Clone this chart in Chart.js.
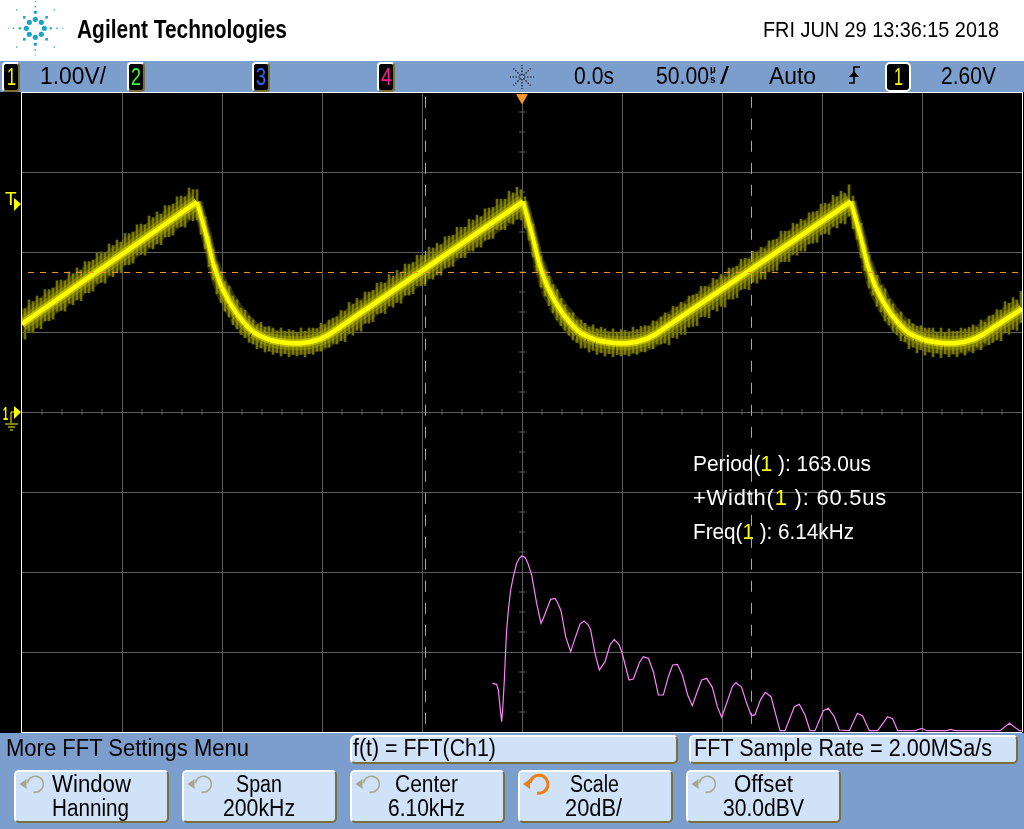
<!DOCTYPE html>
<html><head><meta charset="utf-8">
<style>
html,body{margin:0;padding:0;width:1024px;height:829px;overflow:hidden;background:#fff}
#stage{position:relative;width:1024px;height:829px;overflow:hidden;font-family:"Liberation Sans",sans-serif;color:#000}
.bl{position:absolute;background:#7c9ecc}
#plot{position:absolute;left:0;top:92px;width:1024px;height:641px;background:#000}
#cv{position:absolute;left:0;top:0;width:1024px;height:829px}
.t{position:absolute;white-space:nowrap;line-height:1;transform-origin:0 50%}
.y{color:#ff0}
.box{position:absolute;background:#000;border-radius:4px;border:2px solid;border-color:#fff #7a6f3a #7a6f3a #fff;box-sizing:border-box}
.btn{position:absolute;box-sizing:border-box;background:#cfe2f8;border:2px solid;border-color:#fff #7a6f3a #7a6f3a #fff;border-radius:5px}
svg{position:absolute;left:0;top:0;overflow:visible}
</style></head>
<body>
<div id="stage">
<div class="bl" style="left:0;top:61px;width:1024px;height:31px"></div>
<div id="plot"></div>
<div class="bl" style="left:0;top:733px;width:1024px;height:96px"></div>
<div style="position:absolute;left:21px;top:92px;width:1px;height:641px;background:#fff"></div>
<canvas id="cv" width="1024" height="829"></canvas>

<div class="t" data-w="210" style="left:77px;top:16px;font-size:26px;font-weight:bold">Agilent Technologies</div>
<div class="t" data-w="236" style="left:763px;top:19px;font-size:22px">FRI JUN 29 13:36:15 2018</div>

<div class="box" style="left:2px;top:62px;width:18px;height:30px"></div>
<div class="t" data-w="9" style="left:7px;top:65px;font-size:24px;color:#ff0">1</div>
<div class="t" data-w="66" style="left:40px;top:65px;font-size:23px">1.00V/</div>
<div class="box" style="left:127px;top:62px;width:18px;height:30px"></div>
<div class="t" data-w="10" style="left:131px;top:65px;font-size:24px;color:#3f3">2</div>
<div class="box" style="left:252px;top:62px;width:18px;height:30px"></div>
<div class="t" data-w="10" style="left:256px;top:65px;font-size:24px;color:#2a6aff">3</div>
<div class="box" style="left:377px;top:62px;width:18px;height:30px"></div>
<div class="t" data-w="11" style="left:381px;top:65px;font-size:24px;color:#ff1a8c">4</div>
<div class="t" data-w="40" style="left:574px;top:65px;font-size:23px">0.0s</div>
<div class="t" data-w="53" style="left:656px;top:65px;font-size:23px">50.00</div>
<div class="t" style="left:710px;top:65px;font-size:10px;font-weight:bold">µ</div>
<div class="t" style="left:710px;top:75px;font-size:10px;font-weight:bold">s</div>
<div class="t" data-w="9" style="left:720px;top:65px;font-size:23px">/</div>
<div class="t" data-w="47" style="left:769px;top:65px;font-size:23px">Auto</div>
<div class="box" style="left:885px;top:62px;width:26px;height:30px;border-color:#fff;border-radius:5px"></div>
<div class="t" data-w="9" style="left:894px;top:65px;font-size:24px;color:#ff0">1</div>
<div class="t" data-w="55" style="left:941px;top:65px;font-size:23px">2.60V</div>

<div class="t" data-w="178" style="left:693px;top:453px;font-size:22px;color:#fff">Period(<span class="y">1</span> ): 163.0us</div>
<div class="t" data-w="194" style="left:693px;top:487px;font-size:22px;color:#fff;letter-spacing:.8px">+Width(<span class="y">1</span> ): 60.5us</div>
<div class="t" data-w="161" style="left:693px;top:521px;font-size:22px;color:#fff">Freq(<span class="y">1</span> ): 6.14kHz</div>

<div class="t" data-w="243" style="left:6px;top:737px;font-size:23px">More FFT Settings Menu</div>
<div class="btn" style="left:350px;top:735px;width:328px;height:29px;border-top-left-radius:6px"></div>
<div class="t" data-w="143" style="left:353px;top:737px;font-size:23px">f(t) = FFT(Ch1)</div>
<div class="btn" style="left:689px;top:735px;width:329px;height:29px"></div>
<div class="t" data-w="298" style="left:694px;top:737px;font-size:23px">FFT Sample Rate = 2.00MSa/s</div>

<div class="btn" style="left:14px;top:770px;width:155px;height:53px"></div>
<div class="btn" style="left:182px;top:770px;width:155px;height:53px"></div>
<div class="btn" style="left:350px;top:770px;width:155px;height:53px"></div>
<div class="btn" style="left:518px;top:770px;width:155px;height:53px"></div>
<div class="btn" style="left:686px;top:770px;width:155px;height:53px"></div>
<div class="t" data-w="79" style="left:52px;top:773px;font-size:23px">Window</div>
<div class="t" data-w="77" style="left:52px;top:797px;font-size:23px">Hanning</div>
<div class="t" data-w="46" style="left:236px;top:773px;font-size:23px">Span</div>
<div class="t" data-w="72" style="left:223px;top:797px;font-size:23px">200kHz</div>
<div class="t" data-w="63" style="left:395px;top:773px;font-size:23px">Center</div>
<div class="t" data-w="77" style="left:388px;top:797px;font-size:23px">6.10kHz</div>
<div class="t" data-w="49" style="left:570px;top:773px;font-size:23px">Scale</div>
<div class="t" data-w="57" style="left:565px;top:797px;font-size:23px">20dB/</div>
<div class="t" data-w="59" style="left:734px;top:773px;font-size:23px">Offset</div>
<div class="t" data-w="81" style="left:723px;top:797px;font-size:23px">30.0dBV</div>
<div class="t" style="left:5px;top:189px;font-size:19px;color:#ff0">T</div>
<div class="t" data-w="5" style="left:3px;top:405px;font-size:18px;color:#ff0;font-weight:bold">1</div>
<svg id="art" width="1024" height="829"></svg>
</div>

<script src="https://cdn.jsdelivr.net/npm/chart.js@4/dist/chart.umd.min.js"></script>
<script>
// Time-domain trace (CH1): time in microseconds, level in volts
const traceTimes = [-250,-162.5,-160,-157.5,-154.5,-152,-150,-146,-142.5,-138.5,-134.5,-130,-126,-121,-116,-111,-106,-101,-96,-91,
  0.5,3,5.5,8.5,11,13,17,20.5,24.5,28.5,33,37,42,47,52,57,62,67,72,
  164.5,167,169.5,172.5,175,177,181,184.5,188.5,192.5,197,201,206,211,216,221,226,231,236,250];
const traceVolts = [1.10,2.625,2.40,2.175,1.86,1.675,1.55,1.36,1.225,1.10,1.00,0.94,0.90,0.875,0.86,0.86,0.875,0.91,0.975,1.06,
  2.63,2.40,2.175,1.86,1.675,1.55,1.36,1.225,1.10,1.00,0.94,0.90,0.875,0.86,0.86,0.875,0.91,0.975,1.06,
  2.63,2.40,2.175,1.86,1.675,1.55,1.36,1.225,1.10,1.00,0.94,0.90,0.875,0.86,0.86,0.875,0.91,0.975,1.06,1.29];

// Noise envelope of the trace: one column every 2 us from -250 us
const envelopeHigh = [1.30,1.29,1.40,1.38,1.45,1.42,1.53,1.53,1.55,1.64,1.65,1.64,1.75,1.73,1.80,1.77,1.88,1.88,1.90,1.99,
  2.00,1.99,2.10,2.08,2.15,2.12,2.23,2.23,2.25,2.34,2.35,2.34,2.45,2.43,2.50,2.47,2.58,2.58,2.60,2.69,2.70,2.69,2.80,2.78,
  2.78,2.57,2.44,2.20,2.03,1.84,1.75,1.63,1.57,1.45,1.40,1.30,1.27,1.20,1.15,1.09,1.12,1.06,1.07,1.05,1.01,1.05,1.01,1.03,1.02,.99,1.05,1.01,1.05,1.05,1.04,1.11,1.09,1.15,1.17,1.19,
  1.27,1.26,1.37,1.35,1.42,1.39,1.50,1.50,1.52,1.61,1.62,1.61,1.72,1.70,1.77,1.74,1.85,1.85,1.87,1.96,
  1.96,1.96,2.06,2.05,2.11,2.09,2.19,2.20,2.21,2.31,2.31,2.31,2.41,2.40,2.46,2.44,2.54,2.55,2.56,2.66,2.66,2.66,2.76,2.74,2.81,2.78,
  2.69,2.48,2.35,2.10,1.95,1.77,1.70,1.59,1.53,1.42,1.34,1.24,1.24,1.15,1.15,1.11,1.06,1.09,1.04,1.06,1.04,1.00,1.04,1.00,1.03,1.02,1.00,1.06,1.03,1.07,1.08,1.07,1.14,1.13,1.19,
  1.24,1.22,1.32,1.31,1.37,1.35,1.45,1.46,1.47,1.57,1.57,1.56,1.67,1.65,1.72,1.69,1.80,1.80,1.82,1.91,
  1.92,1.91,2.01,2.00,2.06,2.04,2.14,2.15,2.16,2.26,2.26,2.26,2.36,2.35,2.41,2.39,2.49,2.50,2.51,2.60,2.61,2.60,2.71,2.69,2.76,2.73,2.84,
  2.70,2.47,2.36,2.09,1.96,1.76,1.71,1.58,1.54,1.41,1.35,1.23,1.25,1.14,1.16,1.10,1.07,1.08,1.05,1.05,1.05,.99,1.05,.99,1.04,1.01,1.01,1.05,1.04,1.06,1.09,1.06,1.15,1.12,1.20,1.21,
  1.28,1.27,1.38,1.36,1.43,1.40,1.51];
const envelopeLow = [.92,.91,1.01,.99,1.05,1.04,1.14,1.14,1.16,1.26,1.27,1.26,1.36,1.34,1.40,1.39,1.49,1.49,1.51,1.61,
  1.62,1.61,1.71,1.69,1.75,1.74,1.84,1.84,1.86,1.96,1.97,1.96,2.06,2.04,2.10,2.09,2.19,2.19,2.21,2.31,2.32,2.31,2.41,2.39,
  2.40,2.22,2.04,1.82,1.65,1.48,1.37,1.26,1.19,1.09,1.04,.97,.93,.87,.85,.79,.80,.75,.76,.72,.74,.70,.73,.69,.72,.70,.72,.69,.73,.72,.76,.76,.81,.81,.86,.85,
  .89,.88,.98,.96,1.02,1.01,1.11,1.11,1.13,1.23,1.24,1.23,1.33,1.31,1.37,1.36,1.46,1.46,1.48,1.58,
  1.58,1.58,1.67,1.66,1.71,1.71,1.80,1.81,1.82,1.93,1.93,1.93,2.02,2.01,2.06,2.06,2.15,2.16,2.17,2.28,2.28,2.28,2.37,2.35,2.41,2.40,
  2.30,2.15,1.94,1.76,1.56,1.45,1.33,1.24,1.15,1.08,1.02,.96,.90,.87,.80,.80,.75,.77,.72,.74,.70,.73,.69,.72,.70,.72,.70,.74,.72,.76,.75,.80,.79,.85,.85,
  .86,.84,.93,.92,.97,.97,1.06,1.07,1.08,1.19,1.19,1.18,1.28,1.26,1.32,1.31,1.41,1.41,1.43,1.53,
  1.54,1.53,1.62,1.61,1.66,1.66,1.75,1.76,1.77,1.88,1.88,1.88,1.97,1.96,2.01,2.01,2.10,2.11,2.12,2.22,2.23,2.22,2.32,2.30,2.36,2.35,2.45,
  2.29,2.16,1.93,1.77,1.55,1.46,1.32,1.25,1.14,1.09,1.01,.97,.89,.88,.79,.81,.74,.78,.71,.75,.69,.74,.68,.73,.69,.73,.69,.75,.71,.77,.74,.81,.78,.86,.84,.87,
  .90,.89,.99,.97,1.03,1.02,1.12];

// FFT math trace: frequency in kHz, magnitude in dBV
const fftFreq = [0.17,1.03,1.37,1.7,2.03,2.23,2.57,2.83,3.03,3.37,3.83,4.37,5.03,5.57,6.03,6.7,7.23,8.03,9.03,9.9,10.37,11.83,12.7,13.17,13.9,14.83,15.83,16.7,17.7,18.5,19.37,19.83,20.7,21.57,22.7,23.7,24.57,25.57,26.23,27.5,28.37,29.57,30.37,31.37,32.37,33.37,34.37,35.37,36.23,37.17,38.17,39.23,40.17,41.03,42.03,43.03,44.17,45.17,46.03,47.03,48.17,48.9,50.03,51.03,51.97,52.7,53.83,54.77,55.9,57.7,58.7,60.57,61.57,62.7,63.7,64.7,66.37,67.37,68.57,69.57,71.57,73.17,74.23,75.57,77.23,79.23,80.23,81.23,84.7,86.03,87.03,91.03,91.83,92.7,101.7,103.57,105.57,106.03];
const fftDb = [-37.83,-38.08,-39.5,-43.67,-47.42,-44.5,-37,-29.5,-24.5,-19.5,-14.5,-11.17,-7.83,-6.58,-6,-6.33,-7.67,-10.75,-17.83,-22.83,-21.58,-16.83,-16.58,-17.58,-19.67,-26.17,-29.92,-26.58,-23,-22.25,-23.25,-24.5,-30.33,-34.5,-32.42,-28.25,-26.83,-28.25,-30.75,-37,-36.75,-32.67,-31.17,-31.58,-34.92,-40.75,-40.75,-36.17,-33.25,-33.08,-35.75,-40.75,-43.42,-40.33,-37,-36.58,-38.83,-43.67,-46.33,-42.83,-38.67,-37.67,-38.83,-42.83,-45.92,-45.67,-41.83,-40.08,-41.17,-49.67,-49.67,-43.67,-43.08,-45.75,-49.67,-49.67,-44.67,-44.08,-46.17,-49.5,-49.67,-45.33,-46,-49.67,-49.67,-46.17,-46.67,-49.67,-49.67,-49.08,-49.67,-49.67,-49.33,-49.67,-49.67,-47.83,-49.67,-49.67];

// Cursors and trigger level
const cursorTimes = [-48.25, 114.75];
const triggerLevel = 1.744;

const TIME_MIN=-250, TIME_MAX=250, VOLT_MIN=-4, VOLT_MAX=4;
const zip=(a,b)=>a.map((v,i)=>({x:v,y:b[i]}));
const yTicks=[],xTicks=[];
for(let v=-4;v<=4;v+=0.25) if(Math.abs(v%1)>0.01) yTicks.push({x:0,y:v});
for(let t=-250;t<=250;t+=10) if(Math.abs(t%50)>0.01) xTicks.push({x:t,y:0});

// stroke narrows gradually with the steepness of the falling edge
const taper=(wide,thin)=>c=>{
  const s=(c.p0.parsed.y-c.p1.parsed.y)/(c.p1.parsed.x-c.p0.parsed.x);
  return s<=0?wide:wide-(wide-thin)*Math.min(1,s/0.09);
};
new Chart(document.getElementById('cv'),{
  type:'bar',
  data:{datasets:[
    {type:'bar',label:'envelope',data:envelopeHigh.map((h,i)=>({x:-250+2*i,y:[envelopeLow[i],h]})),
      backgroundColor:'#707000',barThickness:2,order:20,xAxisID:'x',yAxisID:'y',borderWidth:0},
    {type:'line',label:'glow',data:zip(traceTimes,traceVolts),borderColor:'rgba(150,150,0,.32)',pointRadius:0,order:17,
      borderWidth:23,borderJoinStyle:'round',segment:{borderWidth:taper(23,11)},xAxisID:'x',yAxisID:'y'},
    {type:'line',label:'halo2',data:zip(traceTimes,traceVolts),borderColor:'rgba(170,170,0,.45)',pointRadius:0,order:16,
      borderWidth:14,borderJoinStyle:'round',segment:{borderWidth:taper(14,8)},xAxisID:'x',yAxisID:'y'},
    {type:'line',label:'halo',data:zip(traceTimes,traceVolts),borderColor:'rgba(210,210,0,.7)',pointRadius:0,order:15,
      borderWidth:8,borderJoinStyle:'round',segment:{borderWidth:taper(8,6)},xAxisID:'x',yAxisID:'y'},
    {type:'line',label:'CH1',data:zip(traceTimes,traceVolts),borderColor:'#ffff00',pointRadius:0,order:13,
      borderWidth:4.5,borderJoinStyle:'round',segment:{borderWidth:taper(4.5,3.5)},xAxisID:'x',yAxisID:'y'},
    {type:'line',label:'FFT',data:zip(fftFreq,fftDb),borderColor:'#ff80ff',borderWidth:1.2,pointRadius:0,order:10,xAxisID:'xF',yAxisID:'yF'},
    {type:'line',label:'cursorA',data:[{x:cursorTimes[0],y:3.94},{x:cursorTimes[0],y:-4}],borderColor:'#ef9a2e',borderWidth:1,borderDash:[11,11],pointRadius:0,order:8,xAxisID:'x',yAxisID:'y'},
    {type:'line',label:'cursorB',data:[{x:cursorTimes[1],y:3.94},{x:cursorTimes[1],y:-4}],borderColor:'#ef9a2e',borderWidth:1,borderDash:[11,11],pointRadius:0,order:8,xAxisID:'x',yAxisID:'y'},
    {type:'line',label:'level',data:[{x:-247,y:triggerLevel},{x:250,y:triggerLevel}],borderColor:'#ef9a2e',borderWidth:1,borderDash:[6,6],pointRadius:0,order:8,xAxisID:'x',yAxisID:'y'},
    {type:'scatter',label:'vTicks',data:yTicks,pointStyle:'line',pointRadius:3,pointBorderColor:'#5c5c5c',pointBorderWidth:1,order:30,xAxisID:'x',yAxisID:'y'},
    {type:'scatter',label:'hTicks',data:xTicks,pointStyle:'line',pointRotation:90,pointRadius:3,pointBorderColor:'#5c5c5c',pointBorderWidth:1,order:30,xAxisID:'x',yAxisID:'y'},
    {type:'scatter',label:'triggerPos',data:[{x:0,y:3.93}],pointStyle:'triangle',pointRotation:180,pointRadius:6,pointBackgroundColor:'#f59a23',pointBorderColor:'#f59a23',order:5,xAxisID:'x',yAxisID:'y'}
  ]},
  options:{
    responsive:false,animation:false,
    layout:{autoPadding:false,padding:{left:22,right:2,top:92,bottom:97}},
    plugins:{legend:{display:false},tooltip:{enabled:false}},
    scales:{
      x:{type:'linear',min:TIME_MIN,max:TIME_MAX,offset:false,border:{display:false},
         ticks:{display:false,stepSize:50},
         grid:{drawTicks:false,offset:false,lineWidth:1,color:c=>!c.tick?'#5c5c5c':c.tick.value===TIME_MIN?'rgba(0,0,0,0)':c.tick.value===TIME_MAX?'#ffffff':'#5c5c5c'}},
      y:{type:'linear',min:VOLT_MIN,max:VOLT_MAX,border:{display:false},
         ticks:{display:false,stepSize:1},
         grid:{drawTicks:false,lineWidth:1,color:c=>(c.tick&&(c.tick.value===VOLT_MIN||c.tick.value===VOLT_MAX))?'#ffffff':'#5c5c5c'}},
      xF:{type:'linear',display:false,offset:false,min:-93.9,max:106.1},
      yF:{type:'linear',display:false,min:-50,max:110}
    }
  }
});

// Fit every text run to the width measured on the instrument's narrow font
document.querySelectorAll('.t[data-w]').forEach(e=>{
  const w=e.getBoundingClientRect().width;
  e.style.transform='scaleX('+(parseFloat(e.dataset.w)/w)+')';
});

// Instrument artwork (logo, markers, knob icons)
const NS='http://www.w3.org/2000/svg',art=document.getElementById('art');
function el(n,a){const e=document.createElementNS(NS,n);for(const k in a)e.setAttribute(k,a[k]);art.appendChild(e);return e;}
const teal='#1ea3c6';
[[35.3,19.3,2.6],[29.3,22.3,2.6],[41.3,22.3,2.6],[26.3,28.3,2.6],[44.3,28.3,2.6],[29.3,34.3,2.6],[41.3,34.3,2.6],[35.3,37.3,2.6]].forEach(p=>el('circle',{cx:p[0],cy:p[1],r:p[2],fill:teal}));
[[35.3,12.3,3],[24.3,17.3,2.6],[46.6,17.3,2.6],[24.3,39.3,2.6],[46.6,39.3,2.6],[35.3,44.3,3],[19.8,28.3,2.2],[50.8,28.3,2.2],[35.3,6.7,1.5],[35.3,50,1.5],[13.5,28.3,1.4],[57,28.3,1.4],[16.7,10,1.3],[54.3,10,1.3],[16.7,47,1.3],[54.3,47,1.3],[35.3,1.7,1],[35.3,55,1],[8.3,28.3,1],[62.7,28.3,1]].forEach(p=>el('rect',{x:p[0]-p[2]/2,y:p[1]-p[2]/2,width:p[2],height:p[2],fill:teal}));

// acquisition star in the status strip
for(let i=0;i<8;i++){const a=i*Math.PI/4;el('line',{x1:522+Math.cos(a)*2,y1:77+Math.sin(a)*2,x2:522+Math.cos(a)*12,y2:77+Math.sin(a)*12,stroke:'#111','stroke-width':1.2,'stroke-dasharray':'1.5 1.5'});}
// trigger edge glyph
el('path',{d:'M849 83H854V67H860',fill:'none',stroke:'#000','stroke-width':1.6});
el('path',{d:'M849 77L854 71L859 77Z',fill:'#000'});
// T marker and ground marker
el('path',{d:'M14 198L21 204L14 211Z',fill:'#ff0'});
el('path',{d:'M14 406L21 412L14 419Z',fill:'#ff0'});
el('path',{d:'M14 412H11V423M5 424H18M8 427H15M10 430H13',fill:'none',stroke:'#ff0','stroke-width':1});
// knob icons
function knob(cx,cy,col,w,r){
  el('path',{d:`M${cx-r} ${cy-1}A${r} ${r} 0 1 1 ${cx-2} ${cy+r}`,fill:'none',stroke:col,'stroke-width':w});
  el('path',{d:`M${cx-16} ${cy}L${cx-9} ${cy-5}V${cy+5}Z`,fill:col});
}
[35,203,371,707].forEach(x=>knob(x+0.5,784,'#a9a78d',1.6,8));
knob(539,784,'#ef7d10',3,9);
</script>
</body></html>
